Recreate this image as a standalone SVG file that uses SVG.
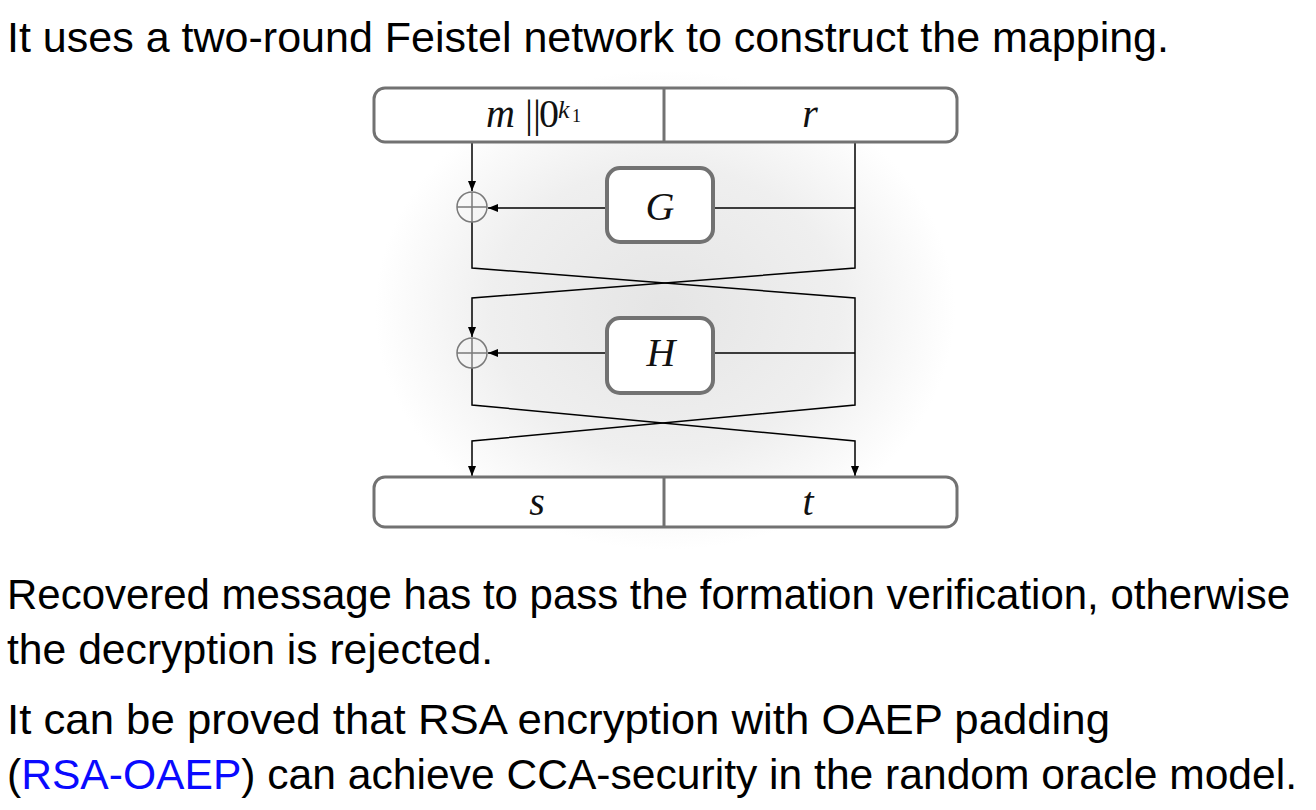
<svg xmlns="http://www.w3.org/2000/svg" width="1316" height="810" viewBox="0 0 1316 810">
<style>
.txt{font-family:"Liberation Sans",Arial,sans-serif;font-size:42px;fill:#000}
.lbl{font-family:"Liberation Serif","Times New Roman",serif;font-style:italic;font-size:40px;fill:#111}
.up{font-style:normal}
.box{fill:#fff;stroke:#727272;stroke-width:3}
.fn{fill:#fff;stroke:#727272;stroke-width:4}
.wire{fill:none;stroke:#000;stroke-width:1.5}
.xor{fill:none;stroke:#7a7a7a;stroke-width:1.5}
</style>
<defs>
<radialGradient id="shade" cx="0.5" cy="0.5" r="0.5">
<stop offset="0" stop-color="#e5e5e5"/>
<stop offset="0.6" stop-color="#efefef"/>
<stop offset="1" stop-color="#ffffff"/>
</radialGradient>
<marker id="arr" markerWidth="10" markerHeight="8" refX="10" refY="4" orient="auto" markerUnits="userSpaceOnUse">
<path d="M0,0 L10,4 L0,8 Z" fill="#000"/>
</marker>
</defs>
<rect width="1316" height="810" fill="#fff"/>
<rect x="375" y="70" width="580" height="480" fill="url(#shade)"/>

<text class="txt" x="7" y="52" textLength="1162" lengthAdjust="spacingAndGlyphs">It uses a two-round Feistel network to construct the mapping.</text>

<g id="connectors">
<path class="wire" d="M472,142 V191" marker-end="url(#arr)"/>
<path class="wire" d="M607,208 H488" marker-end="url(#arr)"/>
<path class="wire" d="M713,208 H855"/>
<path class="wire" d="M855,142 V268 L472,298 V337" marker-end="url(#arr)"/>
<path class="wire" d="M472,222 V268 L855,298 V405 L472,441 V476" marker-end="url(#arr)"/>
<path class="wire" d="M607,353 H488" marker-end="url(#arr)"/>
<path class="wire" d="M713,353 H855"/>
<path class="wire" d="M472,368 V405 L855,441 V476" marker-end="url(#arr)"/>
</g>

<g id="input">
<rect class="box" x="374" y="88" width="583" height="54" rx="11"/>
<line x1="664" y1="88" x2="664" y2="142" stroke="#727272" stroke-width="3"/>
<text class="lbl" x="486" y="127">m</text>
<text class="lbl up" x="525" y="127">||</text>
<text class="lbl up" x="539" y="127">0</text>
<text class="lbl" x="558" y="118" style="font-size:26px">k</text>
<text class="lbl up" x="572" y="122" style="font-size:18px">1</text>
<text class="lbl" x="810" y="127" text-anchor="middle">r</text>
</g>

<g id="xor1">
<circle class="xor" cx="472" cy="207" r="15"/>
<path class="xor" d="M457,207 H487 M472,192 V222"/>
</g>

<g id="G">
<rect class="fn" x="607" y="168" width="106" height="74" rx="13"/>
<text class="lbl" x="660" y="220" text-anchor="middle">G</text>
</g>

<g id="xor2">
<circle class="xor" cx="472" cy="353" r="15"/>
<path class="xor" d="M457,353 H487 M472,338 V368"/>
</g>

<g id="H">
<rect class="fn" x="607" y="318" width="106" height="75" rx="13"/>
<text class="lbl" x="661" y="366" text-anchor="middle">H</text>
</g>

<g id="output">
<rect class="box" x="374" y="477" width="583" height="50" rx="11"/>
<line x1="664" y1="477" x2="664" y2="527" stroke="#727272" stroke-width="3"/>
<text class="lbl" x="537" y="515" text-anchor="middle">s</text>
<text class="lbl" x="808" y="515" text-anchor="middle">t</text>
</g>

<text class="txt" x="7" y="609" textLength="1283" lengthAdjust="spacingAndGlyphs">Recovered message has to pass the formation verification, otherwise</text>
<text class="txt" x="7" y="664" textLength="486" lengthAdjust="spacingAndGlyphs">the decryption is rejected.</text>
<text class="txt" x="7" y="734" textLength="1103" lengthAdjust="spacingAndGlyphs">It can be proved that RSA encryption with OAEP padding</text>
<text class="txt" x="7" y="789" textLength="1290" lengthAdjust="spacingAndGlyphs">(<tspan fill="#0a0aff">RSA-OAEP</tspan>) can achieve CCA-security in the random oracle model.</text>
</svg>
